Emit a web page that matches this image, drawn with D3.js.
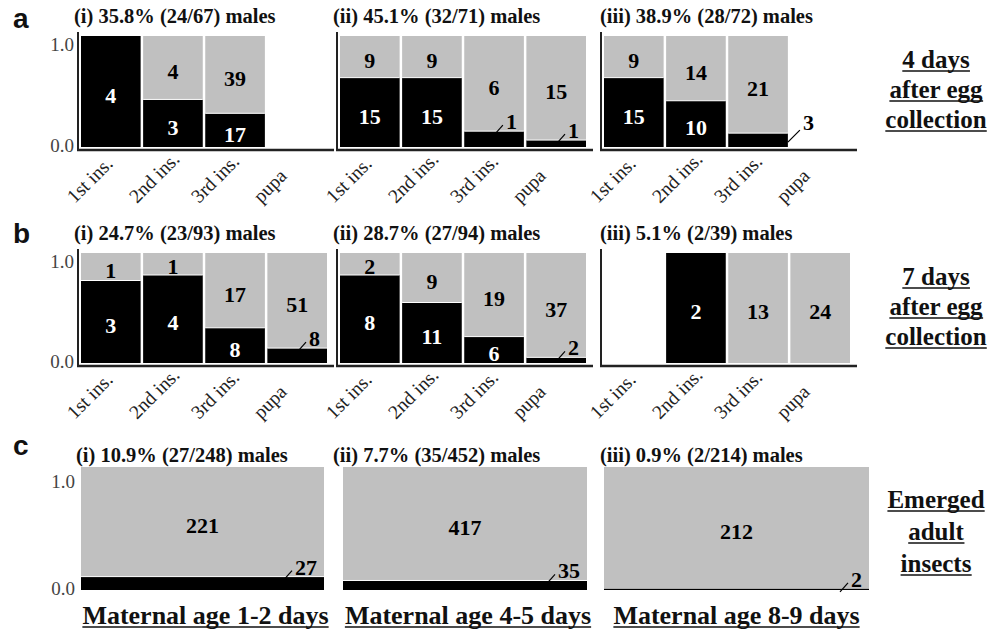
<!DOCTYPE html>
<html><head><meta charset="utf-8">
<script src="https://cdn.jsdelivr.net/npm/d3@7"></script>
<style>body{margin:0;background:#fff}svg{display:block}</style>
</head><body><svg id="chart" width="1005" height="634"></svg>
<script>
// ---------------- DATA ----------------
const categories = ["1st ins.", "2nd ins.", "3rd ins.", "pupa"];
const panelIds = ["i", "ii", "iii"];
const rowLetters = ["a", "b", "c"];
// males (black) / females (gray); null = no insects at that stage
const malesA   = [[4, 3, 17, null], [15, 15, 1, 1], [15, 10, 3, null]];
const femalesA = [[0, 4, 39, null], [9, 9, 6, 15], [9, 14, 21, null]];
const malesB   = [[3, 4, 8, 8], [8, 11, 6, 2], [null, 2, 0, 0]];
const femalesB = [[1, 1, 17, 51], [2, 9, 19, 37], [null, 0, 13, 24]];
const malesC   = [27, 35, 2];
const femalesC = [221, 417, 212];
const rowLabels = [["4 days", "after egg", "collection"], ["7 days", "after egg", "collection"], ["Emerged", "adult", "insects"]];
const maternalLabels = ["Maternal age 1-2 days", "Maternal age 4-5 days", "Maternal age 8-9 days"];
const yTicks = [0, 1];

// ---------------- LAYOUT ----------------
const svg = d3.select("#chart");
const SERIF = "'Liberation Serif', 'Times New Roman', serif";
const SANS = "'Liberation Sans', Arial, sans-serif";
const GRAY = "#c0c0c0";
const layout = [
  { top: 36, bottom: 147, axisY: 150, titleY: 23, letterY: 28, labelY: [68, 98, 128] },
  { top: 253, bottom: 363, axisY: 366, titleY: 240, letterY: 243, labelY: [285, 315, 345] },
  { top: 467, bottom: 590, axisY: null, titleY: 462, letterY: 455, labelY: [508, 540, 572] }
];
const panelX = [78, 337, 601];
const titleX = [74, 333, 600];
const rowCRanges = [[81, 324], [343, 587], [604, 869]];
const NUM_FS = 22;

function serif(sel, size, bold) {
  return sel.style("font-family", SERIF).style("font-size", size + "px").style("font-weight", bold ? "bold" : "normal");
}

function pctTitle(p, m, t) {
  return "(" + panelIds[p] + ") " + d3.format(".1f")(100 * m / t) + "% (" + m + "/" + t + ") males";
}

function numText(g, x, yCenter, txt, color, segH) {
  const digitH = 0.676 * NUM_FS;
  const shift = Math.max(0, Math.min(4, (segH - digitH) / 2 - 1));
  serif(g.append("text").attr("x", x).attr("y", yCenter + shift + 0.338 * NUM_FS)
    .attr("text-anchor", "middle").attr("fill", color).text(txt), NUM_FS, true);
}

function drawBar(g, x0, bw, y, m, f, nextEmpty) {
  const tot = m + f;
  const frac = m / tot;
  const yt = y(1), yb = y(0), ym = y(frac);
  if (f > 0) g.append("rect").attr("x", x0).attr("y", yt).attr("width", bw).attr("height", ym - yt).attr("fill", GRAY);
  if (m > 0) g.append("rect").attr("x", x0).attr("y", ym).attr("width", bw).attr("height", yb - ym).attr("fill", "#000");
  if (m > 0 && f > 0 && yb - ym > 3)
    g.append("line").attr("x1", x0).attr("x2", x0 + bw).attr("y1", ym).attr("y2", ym).attr("stroke", "#fff").attr("stroke-width", 1);
  if (f > 0) numText(g, x0 + bw / 2, (yt + ym) / 2, f, "#000", ym - yt);
  const bh = yb - ym;
  if (m > 0) {
    if (bh >= 20) {
      numText(g, x0 + bw / 2, (ym + yb) / 2, m, "#fff", bh);
    } else {
      const right = x0 + bw;
      if (nextEmpty) {
        g.append("line").attr("x1", right).attr("y1", ym + 9).attr("x2", right + 12).attr("y2", ym - 3)
          .attr("stroke", "#000").attr("stroke-width", 1.2);
        serif(g.append("text").attr("x", right + 15).attr("y", ym - 3).attr("fill", "#000").text(m), NUM_FS, true);
      } else {
        const t = serif(g.append("text").attr("x", right - 7).attr("y", ym - 2).attr("text-anchor", "end")
          .attr("fill", "#000").text(m), NUM_FS, true);
        const w = t.node().getComputedTextLength();
        const s = right - 7 - w;
        g.append("line").attr("x1", s - 11).attr("y1", ym + 3).attr("x2", s - 3).attr("y2", ym - 6)
          .attr("stroke", "#000").attr("stroke-width", 1.2);
      }
    }
  }
}

function underlinedText(x, y, txt, fs, anchor) {
  const t = serif(svg.append("text").attr("x", x).attr("y", y).attr("text-anchor", anchor)
    .attr("fill", "#111").text(txt), fs, true);
  const bb = t.node().getBBox();
  svg.append("line").attr("x1", bb.x).attr("x2", bb.x + bb.width).attr("y1", y + 3).attr("y2", y + 3)
    .attr("stroke", "#111").attr("stroke-width", 1.6);
}

function yAxis(g, x0, y, withLabels, offsetTop) {
  const ax = d3.axisLeft(y).tickValues(yTicks).tickFormat(d3.format(".1f")).tickSize(0).tickPadding(3);
  const ga = g.append("g").attr("transform", "translate(" + x0 + ",0)").call(ax);
  ga.select(".domain").remove();
  serif(ga.selectAll("text"), 19, false).attr("fill", "#444")
    .attr("dy", d => d === 1 ? (offsetTop + 0.32 * 19) : (-2 + 0.32 * 19))
    .style("display", withLabels ? null : "none");
}

function drawStageRow(r, males, females) {
  const L = layout[r];
  const y = d3.scaleLinear().domain([0, 1]).range([L.bottom, L.top]);
  males.forEach((mArr, p) => {
    const x0 = panelX[p];
    const x = d3.scaleBand().domain(categories).range([x0 + 3, x0 + 249]).paddingInner(0.04);
    const g = svg.append("g");
    categories.forEach((cat, i) => {
      const m = mArr[i], f = females[p][i];
      if (m == null) return;
      const nextEmpty = i < categories.length - 1 && mArr[i + 1] == null;
      drawBar(g, x(cat), x.bandwidth(), y, m, f, nextEmpty);
    });
    g.append("line").attr("x1", x0).attr("x2", x0).attr("y1", L.top - 4).attr("y2", L.axisY + 1)
      .attr("stroke", "#222").attr("stroke-width", 2);
    g.append("line").attr("x1", x0 - 1).attr("x2", x0 + 256).attr("y1", L.axisY).attr("y2", L.axisY)
      .attr("stroke", "#222").attr("stroke-width", 2.5);
    yAxis(g, x0 - 1, y, p === 0, 8);
    const xa = d3.axisBottom(x).tickSize(0);
    const gx = g.append("g").attr("transform", "translate(0," + L.axisY + ")").call(xa);
    gx.select(".domain").remove();
    serif(gx.selectAll("text"), 19.5, false).attr("y", 0).attr("dy", 0).attr("x", 0)
      .attr("text-anchor", "start").attr("fill", "#222")
      .attr("transform", "translate(-36,54) rotate(-45)");
    const tot = d3.sum(mArr.map((m, i) => m == null ? 0 : m + females[p][i]));
    const mt = d3.sum(mArr.map(m => m == null ? 0 : m));
    serif(svg.append("text").attr("x", titleX[p]).attr("y", L.titleY).attr("fill", "#111")
      .text(pctTitle(p, mt, tot)), 20.5, true);
  });
}

drawStageRow(0, malesA, femalesA);
drawStageRow(1, malesB, femalesB);

// Row c
(function () {
  const L = layout[2];
  const y = d3.scaleLinear().domain([0, 1]).range([L.bottom, L.top]);
  malesC.forEach((m, p) => {
    const f = femalesC[p];
    const x = d3.scaleBand().domain(["adult"]).range(rowCRanges[p]).padding(0);
    const g = svg.append("g");
    drawBar(g, x("adult"), x.bandwidth(), y, m, f, false);
    if (p === 0) yAxis(g, rowCRanges[0][0] - 3, y, true, 14);
    serif(svg.append("text").attr("x", titleX[p] + (p === 0 ? 2 : 0)).attr("y", L.titleY).attr("fill", "#111")
      .text(pctTitle(p, m, m + f)), 20.5, true);
    underlinedText((rowCRanges[p][0] + rowCRanges[p][1]) / 2 + (p === 2 ? 0 : 3), 624, maternalLabels[p], 26, "middle");
  });
})();

// Row letters
rowLetters.forEach((l, r) => {
  svg.append("text").attr("x", 13).attr("y", layout[r].letterY).style("font-family", SANS)
    .style("font-weight", "bold").style("font-size", "28px").attr("fill", "#111").text(l);
});

// Right-hand row labels
rowLabels.forEach((lines, r) => {
  lines.forEach((t, k) => underlinedText(936, layout[r].labelY[k], t, 25, "middle"));
});
</script>
</body></html>
